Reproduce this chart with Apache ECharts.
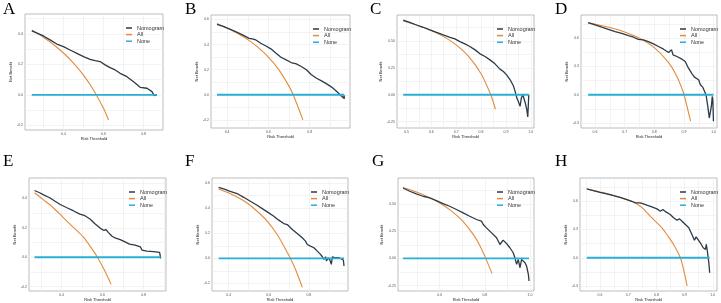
<!DOCTYPE html>
<html>
<head>
<meta charset="utf-8">
<script src="https://cdn.jsdelivr.net/npm/echarts@6/dist/echarts.min.js"></script>
<style>html,body{margin:0;padding:0;background:#fff;}</style>
</head>
<body>
<div id="main" style="width:721px;height:303px;"></div>
<script type="text/javascript">
// ---- data: [risk threshold, net benefit] ----
var nomA = [[0.242,0.42],[0.3,0.387],[0.333,0.361],[0.367,0.334],[0.4,0.317],[0.433,0.295],[0.467,0.273],[0.5,0.251],[0.533,0.234],[0.558,0.225],[0.583,0.219],[0.608,0.197],[0.633,0.179],[0.658,0.164],[0.683,0.142],[0.717,0.12],[0.75,0.087],[0.783,0.05],[0.817,0.044],[0.842,0.022],[0.853,-0.004],[0.867,0.0]];
var allA = [[0.242,0.426],[0.3,0.379],[0.35,0.331],[0.4,0.275],[0.45,0.209],[0.5,0.13],[0.55,0.033],[0.6,-0.088],[0.625,-0.165]];
var noneA = [[0.242,0],[0.867,0]];

var nomB = [[0.351,0.562],[0.384,0.543],[0.416,0.522],[0.449,0.498],[0.482,0.472],[0.506,0.45],[0.522,0.445],[0.539,0.437],[0.563,0.411],[0.588,0.389],[0.612,0.366],[0.637,0.331],[0.661,0.299],[0.686,0.278],[0.71,0.257],[0.735,0.246],[0.759,0.225],[0.784,0.199],[0.808,0.159],[0.833,0.132],[0.857,0.111],[0.882,0.087],[0.906,0.061],[0.931,0.026],[0.952,-0.008],[0.96,0.0],[0.964,-0.025],[0.967,-0.005],[0.967,-0.034]];
var allB = [[0.351,0.569],[0.4,0.533],[0.45,0.491],[0.5,0.44],[0.55,0.378],[0.6,0.3],[0.65,0.2],[0.7,0.067],[0.72,0],[0.767,-0.2]];
var noneB = [[0.351,0],[0.967,0]];

var nomC = [[0.487,0.694],[0.513,0.673],[0.54,0.648],[0.567,0.627],[0.594,0.602],[0.621,0.58],[0.648,0.556],[0.675,0.534],[0.695,0.519],[0.715,0.494],[0.735,0.472],[0.755,0.448],[0.776,0.417],[0.796,0.38],[0.816,0.355],[0.836,0.324],[0.856,0.287],[0.876,0.238],[0.89,0.216],[0.903,0.185],[0.917,0.139],[0.93,0.083],[0.937,0.031],[0.944,-0.031],[0.95,-0.062],[0.957,-0.108],[0.962,-0.031],[0.968,0.0],[0.973,-0.006],[0.978,-0.077],[0.984,-0.139],[0.988,-0.207],[0.992,0.0]];
var allC = [[0.487,0.686],[0.55,0.642],[0.6,0.598],[0.65,0.54],[0.7,0.463],[0.75,0.356],[0.8,0.195],[0.839,0],[0.858,-0.135]];
var noneC = [[0.487,0],[0.992,0]];

var nomD = [[0.577,0.766],[0.6,0.741],[0.623,0.717],[0.645,0.695],[0.668,0.671],[0.69,0.653],[0.713,0.628],[0.73,0.611],[0.746,0.589],[0.763,0.582],[0.78,0.565],[0.797,0.54],[0.814,0.512],[0.831,0.484],[0.848,0.448],[0.858,0.477],[0.863,0.424],[0.876,0.406],[0.893,0.378],[0.904,0.353],[0.915,0.282],[0.927,0.222],[0.935,0.187],[0.941,0.194],[0.949,0.159],[0.955,0.106],[0.963,0.081],[0.968,0.071],[0.974,0],[0.98,-0.124],[0.985,-0.247],[0.989,-0.247],[0.992,-0.124],[0.995,-0.018],[0.997,-0.053],[0.999,-0.282]];
var allD = [[0.577,0.764],[0.6,0.75],[0.65,0.714],[0.7,0.667],[0.75,0.6],[0.8,0.5],[0.85,0.333],[0.875,0.2],[0.89,0.091],[0.9,0],[0.922,-0.28]];
var noneD = [[0.577,0],[0.999,0]];

var nomE = [[0.269,0.453],[0.294,0.438],[0.318,0.42],[0.343,0.404],[0.367,0.382],[0.392,0.36],[0.424,0.338],[0.457,0.316],[0.49,0.293],[0.514,0.282],[0.539,0.26],[0.563,0.227],[0.588,0.198],[0.607,0.182],[0.617,0.187],[0.629,0.167],[0.645,0.144],[0.661,0.131],[0.686,0.12],[0.71,0.104],[0.731,0.089],[0.738,0.096],[0.759,0.082],[0.784,0.071],[0.792,0.049],[0.816,0.042],[0.849,0.038],[0.878,0.033],[0.883,-0.007]];
var allE = [[0.269,0.438],[0.31,0.393],[0.359,0.338],[0.408,0.271],[0.457,0.204],[0.506,0.138],[0.547,0.06],[0.575,0],[0.604,-0.073],[0.642,-0.184]];
var noneE = [[0.269,0],[0.883,0]];

var nomF = [[0.35,0.567],[0.375,0.554],[0.408,0.535],[0.442,0.517],[0.475,0.487],[0.508,0.456],[0.542,0.424],[0.575,0.389],[0.6,0.363],[0.625,0.336],[0.65,0.305],[0.675,0.278],[0.692,0.27],[0.717,0.23],[0.742,0.199],[0.767,0.164],[0.783,0.138],[0.792,0.111],[0.808,0.098],[0.825,0.085],[0.842,0.058],[0.858,0.032],[0.867,0.013],[0.875,-0.008],[0.883,0.013],[0.888,-0.021],[0.895,0.005],[0.905,-0.013],[0.912,-0.048],[0.917,0.013],[0.933,0.005],[0.95,0.005],[0.958,-0.008],[0.972,-0.013],[0.975,-0.061]];
var allF = [[0.35,0.554],[0.392,0.527],[0.442,0.49],[0.492,0.442],[0.542,0.376],[0.592,0.297],[0.642,0.191],[0.675,0.098],[0.708,0],[0.733,-0.087],[0.767,-0.23]];
var noneF = [[0.35,0],[0.975,0]];

var nomG = [[0.437,0.648],[0.467,0.618],[0.496,0.593],[0.526,0.572],[0.556,0.557],[0.585,0.532],[0.615,0.505],[0.644,0.48],[0.674,0.45],[0.704,0.419],[0.733,0.388],[0.763,0.358],[0.785,0.343],[0.793,0.312],[0.807,0.281],[0.83,0.235],[0.837,0.251],[0.852,0.19],[0.867,0.128],[0.874,0.113],[0.881,0.168],[0.896,0.138],[0.911,0.098],[0.926,0.052],[0.933,0.006],[0.941,-0.055],[0.948,-0.009],[0.956,-0.086],[0.963,-0.009],[0.97,0.006],[0.978,-0.04],[0.985,-0.07],[0.993,-0.147],[0.996,-0.208]];
var allG = [[0.437,0.652],[0.5,0.608],[0.55,0.564],[0.6,0.51],[0.65,0.44],[0.7,0.347],[0.75,0.216],[0.78,0.109],[0.804,0],[0.832,-0.14]];
var noneG = [[0.437,0],[0.996,0]];

var nomH = [[0.553,0.731],[0.576,0.713],[0.6,0.695],[0.624,0.678],[0.647,0.66],[0.671,0.642],[0.695,0.618],[0.713,0.6],[0.725,0.582],[0.731,0.565],[0.742,0.582],[0.754,0.572],[0.766,0.558],[0.784,0.54],[0.802,0.519],[0.814,0.494],[0.823,0.512],[0.828,0.519],[0.835,0.484],[0.849,0.459],[0.861,0.424],[0.873,0.399],[0.882,0.413],[0.891,0.388],[0.903,0.353],[0.915,0.318],[0.926,0.247],[0.935,0.187],[0.941,0.222],[0.947,0.201],[0.956,0.159],[0.966,0.106],[0.974,0.088],[0.977,0.141],[0.98,0.088],[0.983,0.018],[0.986,-0.053],[0.989,-0.159]];
var allH = [[0.553,0.731],[0.6,0.699],[0.647,0.664],[0.695,0.618],[0.731,0.572],[0.754,0.519],[0.778,0.441],[0.802,0.371],[0.82,0.318],[0.837,0.247],[0.861,0.141],[0.885,0],[0.899,-0.159],[0.909,-0.3]];
var noneH = [[0.553,0],[0.989,0]];

// ---- axis breaks ----
var xLabA = [0.4,0.6,0.8], xGridA = [0.3,0.4,0.5,0.6,0.7,0.8];
var xLabB = [0.4,0.6,0.8], xGridB = [0.4,0.5,0.6,0.7,0.8,0.9];
var xLabC = [0.5,0.6,0.7,0.8,0.9,1.0], xGridC = [0.5,0.55,0.6,0.65,0.7,0.75,0.8,0.85,0.9,0.95,1.0];
var xLabD = [0.6,0.7,0.8,0.9,1.0], xGridD = [0.6,0.65,0.7,0.75,0.8,0.85,0.9,0.95,1.0];
var xLabE = [0.4,0.6,0.8], xGridE = [0.3,0.4,0.5,0.6,0.7,0.8,0.9];
var xLabG = [0.6,0.8,1.0], xGridG = [0.5,0.6,0.7,0.8,0.9,1.0];
var xLabH = [0.6,0.7,0.8,0.9,1.0], xGridH = [0.55,0.6,0.65,0.7,0.75,0.8,0.85,0.9,0.95,1.0];
var yLab2 = [-0.2,0,0.2,0.4], yGrid2 = [-0.2,-0.1,0,0.1,0.2,0.3,0.4,0.5];
var yLab2b = [-0.2,0,0.2,0.4,0.6], yGrid2b = [-0.2,-0.1,0,0.1,0.2,0.3,0.4,0.5,0.6];
var yLab25 = [-0.25,0,0.25,0.5], yGrid25 = [-0.25,-0.125,0,0.125,0.25,0.375,0.5,0.625];
var yLab3 = [-0.3,0,0.3,0.6], yGrid3 = [-0.3,-0.15,0,0.15,0.3,0.45,0.6,0.75];

var panels = [
  {tag:'A', nom:nomA, all:allA, none:noneA, x:[0.208,0.897], y:[-0.23,0.531], xl:xLabA, xg:xGridA, yl:yLab2, yg:yGrid2, yd:1, box:[25,14,138,116], tx:3, ty:1},
  {tag:'B', nom:nomB, all:allB, none:noneB, x:[0.322,0.995], y:[-0.265,0.636], xl:xLabB, xg:xGridB, yl:yLab2b, yg:yGrid2b, yd:1, box:[211,15,139,113], tx:185, ty:1},
  {tag:'C', nom:nomC, all:allC, none:noneC, x:[0.462,1.013], y:[-0.309,0.741], xl:xLabC, xg:xGridC, yl:yLab25, yg:yGrid25, yd:2, box:[397,15,137,113], tx:370, ty:1},
  {tag:'D', nom:nomD, all:allD, none:noneD, x:[0.553,1.011], y:[-0.353,0.847], xl:xLabD, xg:xGridD, yl:yLab3, yg:yGrid3, yd:1, box:[581,15,136,113], tx:555, ty:1},
  {tag:'E', nom:nomE, all:allE, none:noneE, x:[0.242,0.909], y:[-0.229,0.538], xl:xLabE, xg:xGridE, yl:yLab2, yg:yGrid2, yd:1, box:[29,178,137,115], tx:3, ty:153},
  {tag:'F', nom:nomF, all:allF, none:noneF, x:[0.317,0.995], y:[-0.26,0.641], xl:xLabB, xg:xGridB, yl:yLab2b, yg:yGrid2b, yd:1, box:[212,178,136,114], tx:185, ty:153},
  {tag:'G', nom:nomG, all:allG, none:noneG, x:[0.415,1.018], y:[-0.30,0.74], xl:xLabG, xg:xGridG, yl:yLab25, yg:yGrid25, yd:2, box:[398,178,136,114], tx:372, ty:153},
  {tag:'H', nom:nomH, all:allH, none:noneH, x:[0.529,1.015], y:[-0.353,0.847], xl:xLabH, xg:xGridH, yl:yLab3, yg:yGrid3, yd:1, box:[580,178,137,114], tx:555, ty:153}
];

var cNom = '#2c3b48', cAll = '#e38b3b', cNone = '#2aaed6';
var sans = 'Liberation Sans, Arial, sans-serif';

var grids = [], xAxes = [], yAxes = [], series = [], legends = [], graphics = [];
panels.forEach(function (p, i) {
    grids.push({
        left: p.box[0], top: p.box[1], width: p.box[2], height: p.box[3],
        show: true, borderColor: '#a0a0a0', borderWidth: 0.7, backgroundColor: '#fff'
    });
    xAxes.push({
        gridIndex: i, type: 'value', min: p.x[0], max: p.x[1],
        name: 'Risk Threshold', nameLocation: 'middle', nameGap: 7,
        nameTextStyle: {fontSize: 4, color: '#222', fontFamily: sans},
        axisLine: {show: false},
        axisTick: {show: false, customValues: p.xg},
        splitLine: {show: true, lineStyle: {color: '#ebebeb', width: 0.6}},
        axisLabel: {customValues: p.xl, fontSize: 3.5, color: '#555', margin: 2, fontFamily: sans,
            formatter: function (v) { return v.toFixed(1); }}
    });
    yAxes.push({
        gridIndex: i, type: 'value', min: p.y[0], max: p.y[1],
        name: 'Net Benefit', nameLocation: 'middle', nameGap: 9, nameRotate: 90,
        nameTextStyle: {fontSize: 4, color: '#222', fontFamily: sans},
        axisLine: {show: false},
        axisTick: {show: false, customValues: p.yg},
        splitLine: {show: true, lineStyle: {color: '#ebebeb', width: 0.6}},
        axisLabel: {customValues: p.yl, fontSize: 3.5, color: '#555', margin: 2, fontFamily: sans,
            formatter: function (v) { return v.toFixed(p.yd); }}
    });
    series.push({name: 'All', type: 'line', xAxisIndex: i, yAxisIndex: i, data: p.all, smooth: 0.3,
        showSymbol: false, color: cAll, lineStyle: {color: cAll, width: 1.1}, z: 2, silent: true});
    series.push({name: 'Nomogram', type: 'line', xAxisIndex: i, yAxisIndex: i, data: p.nom,
        showSymbol: false, color: cNom, lineStyle: {color: cNom, width: 1.3}, z: 3, silent: true});
    series.push({name: 'None', type: 'line', xAxisIndex: i, yAxisIndex: i, data: p.none,
        showSymbol: false, color: cNone, lineStyle: {color: cNone, width: 1.8}, z: 4, silent: true});
    legends.push({
        orient: 'vertical', left: p.box[0] + p.box[2] - 37, top: p.box[1] + 11,
        itemWidth: 6, itemHeight: 1.5, itemGap: 0.6, padding: 0,
        textStyle: {fontSize: 5.5, color: '#333', fontFamily: sans},
        data: [{name: 'Nomogram', icon: 'rect'}, {name: 'All', icon: 'rect'}, {name: 'None', icon: 'rect'}]
    });
    graphics.push({
        type: 'text', left: p.tx, top: p.ty,
        style: {text: p.tag, fontSize: 17, fontFamily: 'Liberation Serif, DejaVu Serif, serif', fill: '#000'}
    });
});

var myChart = echarts.init(document.getElementById('main'));
myChart.setOption({
    animation: false,
    backgroundColor: '#fff',
    grid: grids,
    xAxis: xAxes,
    yAxis: yAxes,
    legend: legends,
    graphic: graphics,
    series: series
});
</script>
</body>
</html>
